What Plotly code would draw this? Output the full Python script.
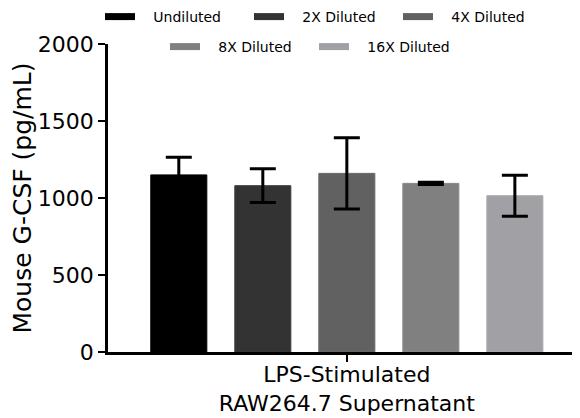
import plotly.graph_objects as go

category = ["LPS-Stimulated<br>RAW264.7 Supernatant"]
series_names = ["Undiluted", "2X Diluted", "4X Diluted", "8X Diluted", "16X Diluted"]
means = [1150, 1080, 1160, 1095, 1015]
sds = [115, 110, 232, 8, 133]
colors = ["#000000", "#333333", "#616161", "#808080", "#a1a1a5"]
edge_colors = ["#000000", "#3c3c3c", "#6a6a6a", "#8a8a8a", "#aaaaae"]
y_ticks = [0, 500, 1000, 1500, 2000]

FONT = "DejaVu Sans"
W, H = 572, 410  # page body keeps an 8px margin inside the 580x418 window

fig = go.Figure()
for i, name in enumerate(series_names):
    fig.add_trace(go.Bar(
        x=category, y=[means[i]], name=name, showlegend=False,
        marker=dict(color=colors[i], line=dict(color=edge_colors[i], width=1)),
        error_y=dict(type="data", array=[sds[i]], visible=True,
                     color="#000000", thickness=3, width=13),
    ))
for i, name in enumerate(series_names):
    fig.add_trace(go.Scatter(
        x=[None], y=[None], mode="lines", name="\u00a0\u00a0\u00a0" + name,
        line=dict(color=colors[i], width=7),
        legend="legend" if i < 3 else "legend2",
        hoverinfo="skip",
    ))

legend_common = dict(
    orientation="h", xref="container", yref="container",
    xanchor="left", yanchor="middle",
    font=dict(family=FONT, size=14, color="#000000"),
    entrywidth=104, entrywidthmode="pixels", itemwidth=30,
    bgcolor="rgba(0,0,0,0)", borderwidth=0,
)

fig.update_layout(
    width=W, height=H, autosize=False,
    margin=dict(l=100, r=0, t=36, b=66, pad=0, autoexpand=False),
    plot_bgcolor="white", paper_bgcolor="white",
    barmode="group", bargap=0.11, bargroupgap=0.333,
    font=dict(family=FONT, color="#000000"),
    legend=dict(x=92 / W, y=1 - 9 / H, **legend_common),
    legend2=dict(x=157 / W, y=1 - 39 / H, **legend_common),
    xaxis=dict(
        range=[-0.506, 0.494],
        showline=True, linecolor="#000000", linewidth=2.5,
        ticks="outside", ticklen=7, tickwidth=2, tickcolor="#000000",
        tickfont=dict(family=FONT, size=22, color="#000000"),
        ticklabelstandoff=-6,
        automargin=False, showgrid=False,
    ),
    yaxis=dict(
        range=[0, 2000], tickvals=y_ticks,
        showline=True, linecolor="#000000", linewidth=2.5,
        ticks="outside", ticklen=7, tickwidth=2, tickcolor="#000000",
        tickfont=dict(family=FONT, size=22, color="#000000"),
        title=dict(text="Mouse G-CSF (pg/mL)", font=dict(family=FONT, size=25, color="#000000")),
        automargin=False, showgrid=False, zeroline=False,
    ),
)

fig.write_html("out.html")
